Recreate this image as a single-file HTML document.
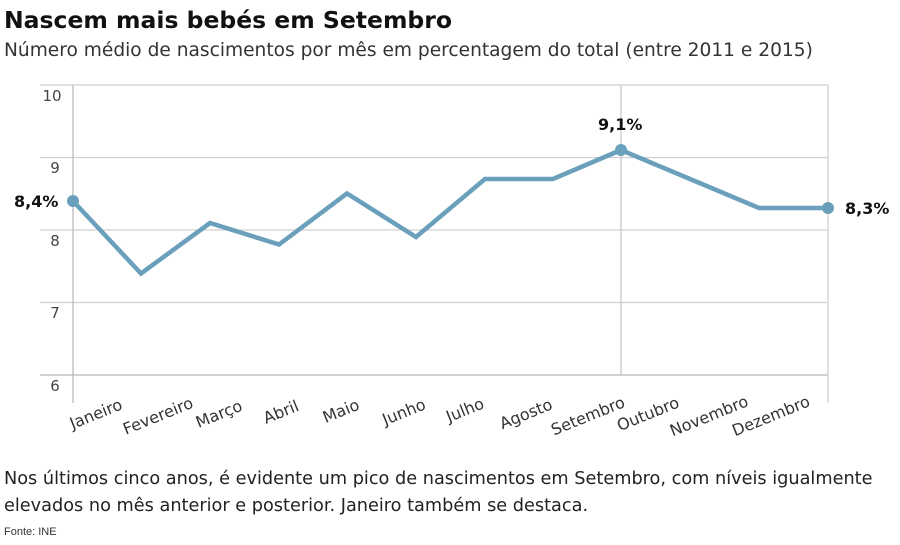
<!DOCTYPE html>
<html><head><meta charset="utf-8"><style>
body{margin:0;background:#fff;width:900px;height:545px;overflow:hidden;font-family:"DejaVu Sans","Liberation Sans",sans-serif;}
</style></head><body>
<svg width="900" height="545" xmlns="http://www.w3.org/2000/svg" style="position:absolute;left:0;top:0">
<text x="4" y="28" font-size="23.5" font-weight="bold" fill="#111">Nascem mais bebés em Setembro</text>
<text x="4" y="56" font-size="18.6" fill="#333">Número médio de nascimentos por mês em percentagem do total (entre 2011 e 2015)</text>
<g stroke="#d0d0d0" stroke-width="1.3">
<line x1="40" y1="85" x2="828" y2="85"/>
<line x1="40" y1="157.5" x2="828" y2="157.5"/>
<line x1="40" y1="230" x2="828" y2="230"/>
<line x1="40" y1="302.5" x2="828" y2="302.5"/>
<line x1="40" y1="375" x2="828" y2="375" stroke="#b8b8b8"/>
<line x1="73" y1="85" x2="73" y2="403" stroke="#bbb"/>
<line x1="621" y1="85" x2="621" y2="376" stroke="#c8c8c8"/>
<line x1="828" y1="85" x2="828" y2="403"/>
</g>
<g font-size="15" fill="#444" text-anchor="middle">
<text x="52" y="101">10</text><text x="55" y="173">9</text><text x="55" y="246">8</text><text x="55" y="318">7</text><text x="55" y="391">6</text>
</g>
<polyline fill="none" stroke="#6aa0bb" stroke-width="4.5" stroke-linejoin="miter" points="73,201 141,273.5 210,223 279,244.5 347,193.5 416,237 485,179 553,179 621,150 690,179 759,208 828,208"/>
<circle cx="73" cy="201" r="6" fill="#6aa0bb"/><circle cx="621" cy="150" r="6" fill="#6aa0bb"/><circle cx="828" cy="208" r="6" fill="#6aa0bb"/>
<g font-size="16" font-weight="bold" fill="#111">
<text x="14" y="207">8,4%</text><text x="598" y="130">9,1%</text><text x="845" y="214">8,3%</text>
</g>
<g font-size="16" fill="#333" text-anchor="middle">
<text transform="translate(98,419) rotate(-22)">Janeiro</text>
<text transform="translate(160,421) rotate(-22)">Fevereiro</text>
<text transform="translate(221,419) rotate(-22)">Março</text>
<text transform="translate(283,417) rotate(-22)">Abril</text>
<text transform="translate(343,416) rotate(-22)">Maio</text>
<text transform="translate(406,417) rotate(-22)">Junho</text>
<text transform="translate(467,415) rotate(-22)">Julho</text>
<text transform="translate(528,419) rotate(-22)">Agosto</text>
<text transform="translate(590,421) rotate(-22)">Setembro</text>
<text transform="translate(650,419) rotate(-22)">Outubro</text>
<text transform="translate(711,421) rotate(-22)">Novembro</text>
<text transform="translate(773,421) rotate(-22)">Dezembro</text>
</g>
<text x="4" y="484" font-size="17.7" fill="#222">Nos últimos cinco anos, é evidente um pico de nascimentos em Setembro, com níveis igualmente</text>
<text x="4" y="511" font-size="17.7" fill="#222">elevados no mês anterior e posterior. Janeiro também se destaca.</text>
<text x="4" y="535" font-size="11" fill="#333" font-family="Liberation Sans, sans-serif">Fonte: INE</text>
</svg>
</body></html>
